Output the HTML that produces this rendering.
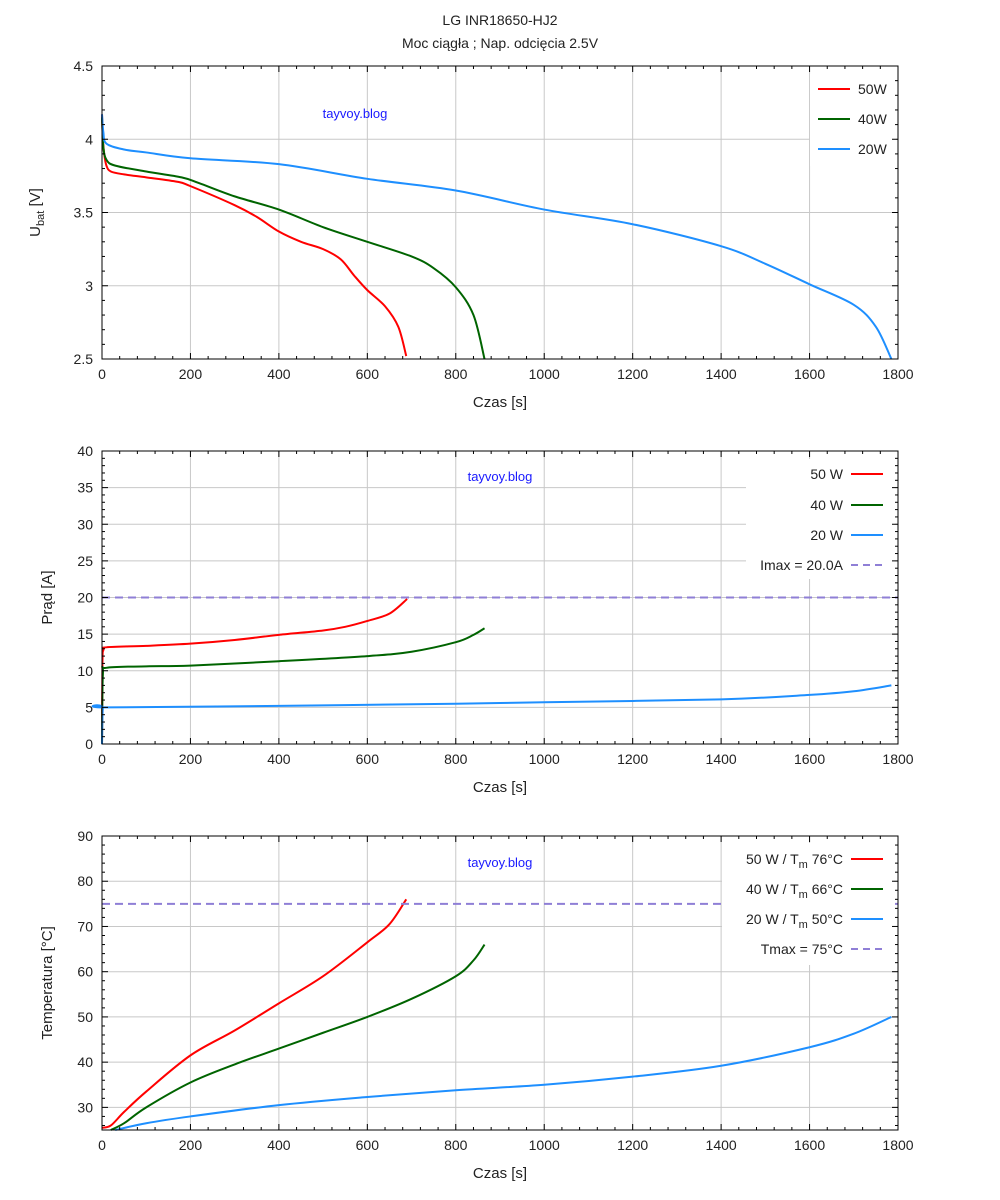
<!DOCTYPE html><html><head><meta charset="utf-8"><style>body{margin:0;background:#fff}svg{display:block;font-family:"Liberation Sans","DejaVu Sans",sans-serif}</style></head><body>
<svg id="s" width="1000" height="1200" xmlns="http://www.w3.org/2000/svg">
<text x="500" y="25" text-anchor="middle" font-size="14" fill="#222">LG INR18650-HJ2</text>
<text x="500" y="48" text-anchor="middle" font-size="14" fill="#222">Moc ciągła ; Nap. odcięcia 2.5V</text>
</svg>
<script>
const S=document.getElementById('s'),NS='http://www.w3.org/2000/svg';
function el(t,a,txt){const e=document.createElementNS(NS,t);for(const k in a)e.setAttribute(k,a[k]);if(txt!==undefined)e.textContent=txt;S.appendChild(e);return e;}
const X0=102,X1=898;const sx=t=>X0+t*(X1-X0)/1800;
function path(pts,fx,fy){let p=pts.map(q=>[fx(q[0]),fy(q[1])]);let d='M'+p[0][0]+','+p[0][1];for(let i=0;i<p.length-1;i++){const a=p[i-1]||p[i],b=p[i],c=p[i+1],e=p[i+2]||c;d+=' C'+(b[0]+(c[0]-a[0])/6)+','+(b[1]+(c[1]-a[1])/6)+' '+(c[0]-(e[0]-b[0])/6)+','+(c[1]-(e[1]-b[1])/6)+' '+c[0]+','+c[1];}return d;}
function panel(o){const {top,bot,ymin,ymax,ystep,ylab,yminor}=o;const ys=o.ystart!==undefined?o.ystart:ymin;const sy=v=>bot-(v-ymin)*(bot-top)/(ymax-ymin);
 for(let t=200;t<1800;t+=200)el('line',{x1:sx(t),x2:sx(t),y1:top,y2:bot,stroke:'#c8c8c8','stroke-width':1});
 for(let v=ys;v<ymax-1e-9;v+=ystep){if(v<=ymin+1e-9)continue;el('line',{x1:X0,x2:X1,y1:sy(v),y2:sy(v),stroke:'#c8c8c8','stroke-width':1});}
 o.series.forEach(s=>el('path',{d:path(s.p,sx,sy),fill:'none',stroke:s.c,'stroke-width':2}));
 if(o.dash)el('line',{x1:X0,x2:X1,y1:sy(o.dash),y2:sy(o.dash),stroke:'#8f7fd6','stroke-width':2,'stroke-dasharray':'8,5'});
 el('rect',{x:o.lg[0],y:o.lg[1],width:o.lg[2],height:o.lg[3],fill:'#fff'});
 el('rect',{x:X0,y:top,width:X1-X0,height:bot-top,fill:'none',stroke:'#000','stroke-width':1});
 for(let t=0;t<=1800;t+=40){const maj=t%200==0;const L=maj?6:3;el('line',{x1:sx(t),x2:sx(t),y1:bot,y2:bot-L,stroke:'#000'});el('line',{x1:sx(t),x2:sx(t),y1:top,y2:top+L,stroke:'#000'});if(maj)el('text',{x:sx(t),y:bot+20,'text-anchor':'middle','font-size':14,fill:'#222'},t);}
 const n0=Math.floor((ys-ymin)/yminor+1e-9);const N=Math.round((ymax-ys)/yminor);
 for(let i=-n0;i<=N;i++){const v=ys+i*yminor;const per=Math.round(ystep/yminor);const maj=i>=0&&i%per==0;const L=maj?6:3;el('line',{x1:X0,x2:X0+L,y1:sy(v),y2:sy(v),stroke:'#000'});el('line',{x1:X1,x2:X1-L,y1:sy(v),y2:sy(v),stroke:'#000'});if(maj)el('text',{x:X0-9,y:sy(v)+5,'text-anchor':'end','font-size':14,fill:'#222'},o.fmt?o.fmt(v):Math.round(v));}
 el('text',{x:500,y:bot+48,'text-anchor':'middle','font-size':15,fill:'#222'},'Czas [s]');
 const yl=el('text',{x:0,y:0,'text-anchor':'middle','font-size':15,fill:'#222',transform:`translate(${o.ylx},${(top+bot)/2}) rotate(-90)`});yl.innerHTML=ylab;
 el('text',{x:o.wm[0],y:o.wm[1],'text-anchor':'middle','font-size':13,fill:'#1a1aff'},'tayvoy.blog');
 o.leg.forEach(g=>{if(g.lineFirst){el('line',{x1:818,x2:850,y1:g.y,y2:g.y,stroke:g.c,'stroke-width':2});el('text',{x:858,y:g.y+5,'font-size':14,fill:'#222'},g.t);}else{el('line',{x1:851,x2:883,y1:g.y,y2:g.y,stroke:g.c,'stroke-width':2,'stroke-dasharray':g.d?'7,5':''});const tx=el('text',{x:843,y:g.y+5,'text-anchor':'end','font-size':14,fill:'#222'});tx.innerHTML=g.t;}});
 return sy;}
const R='#ff0000',G='#006400',B='#1e8fff';
panel({top:66,bot:359,ymin:2.5,ymax:4.5,ystep:0.5,yminor:0.1,fmt:v=>(+v.toFixed(1)).toString(),ylx:40,ylab:'U<tspan font-size="11" dy="4">bat</tspan><tspan dy="-4"> [V]</tspan>',wm:[355,118],lg:[810,74,86,92],
 series:[{c:R,p:[[0,4.17],[2,4.0],[5,3.9],[10,3.82],[20,3.78],[50,3.76],[100,3.74],[170,3.71],[200,3.68],[300,3.55],[350,3.47],[400,3.37],[450,3.3],[500,3.25],[540,3.18],[570,3.07],[600,2.97],[640,2.86],[670,2.72],[688,2.52]]},
 {c:G,p:[[0,4.15],[3,3.95],[10,3.86],[30,3.82],[100,3.78],[180,3.74],[220,3.7],[300,3.61],[400,3.52],[500,3.4],[600,3.3],[700,3.2],[750,3.12],[800,2.99],[840,2.8],[865,2.5]]},
 {c:B,p:[[0,4.17],[3,4.05],[10,3.97],[50,3.93],[100,3.91],[200,3.87],[400,3.83],[600,3.73],[800,3.65],[1000,3.52],[1200,3.42],[1400,3.27],[1500,3.15],[1600,3.01],[1700,2.87],[1750,2.72],[1785,2.5]]}],
 leg:[{y:89,c:R,t:'50W',lineFirst:1},{y:119,c:G,t:'40W',lineFirst:1},{y:149,c:B,t:'20W',lineFirst:1}]});
panel({top:451,bot:744,ymin:0,ymax:40,ystep:5,yminor:1,ylx:52,ylab:'Prąd [A]',wm:[500,481],lg:[746,459,149,120],dash:20,
 series:[{c:R,p:[[0,0],[1,11],[3,12.8],[10,13.2],[100,13.4],[200,13.7],[300,14.2],[400,14.9],[500,15.5],[550,16.0],[600,16.8],[650,17.8],[690,19.8]]},
 {c:G,p:[[0,0],[2,9.5],[10,10.4],[100,10.6],[200,10.7],[400,11.3],[600,12],[700,12.6],[800,13.9],[840,14.9],[865,15.8]]},
 {c:B,p:[[0,0],[2,4.9],[10,5.0],[400,5.2],[800,5.5],[1000,5.7],[1400,6.1],[1600,6.7],[1700,7.2],[1785,8.0]]}],
 leg:[{y:474,c:R,t:'50 W'},{y:505,c:G,t:'40 W'},{y:535,c:B,t:'20 W'},{y:565,c:'#8f7fd6',t:'Imax = 20.0A',d:1}]});
panel({top:836,bot:1130,ymin:25,ymax:90,ystep:10,ystart:30,yminor:2,ylx:52,ylab:'Temperatura [°C]',wm:[500,867],lg:[722,843,172,122],dash:75,
 series:[{c:R,p:[[0,25.5],[20,26],[50,29],[100,33.5],[200,41.5],[300,47],[400,53],[500,59],[600,66.5],[650,70.5],[688,76]]},
 {c:G,p:[[20,25],[50,26.5],[100,30],[200,35.5],[300,39.5],[400,43],[500,46.5],[600,50],[700,54],[800,59],[840,62.5],[865,66]]},
 {c:B,p:[[30,25],[100,26.5],[200,28],[400,30.5],[600,32.3],[800,33.8],[1000,35],[1200,36.8],[1400,39.2],[1600,43.3],[1700,46.3],[1785,50]]}],
 leg:[{y:859,c:R,t:'50 W  / T<tspan font-size="11" dy="4">m</tspan><tspan dy="-4"> 76°C</tspan>'},{y:889,c:G,t:'40 W  / T<tspan font-size="11" dy="4">m</tspan><tspan dy="-4"> 66°C</tspan>'},{y:919,c:B,t:'20 W  / T<tspan font-size="11" dy="4">m</tspan><tspan dy="-4"> 50°C</tspan>'},{y:949,c:'#8f7fd6',t:'Tmax = 75°C',d:1}]});
</script>
</body></html>
